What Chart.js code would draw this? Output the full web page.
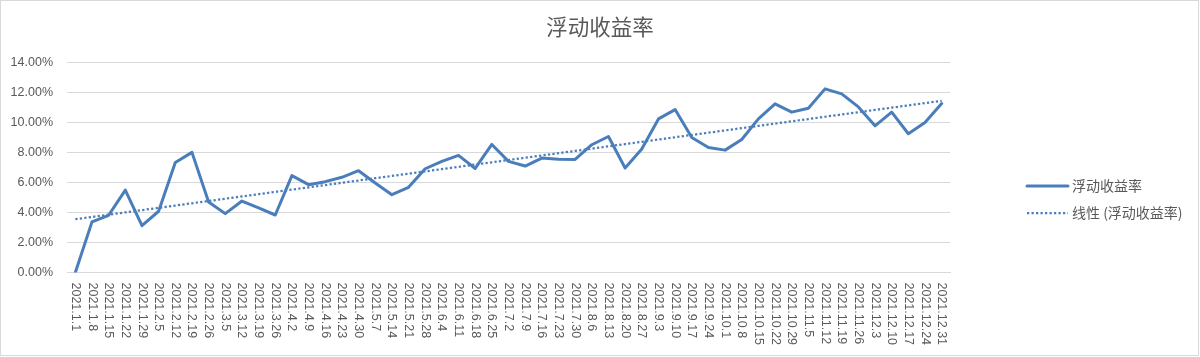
<!DOCTYPE html>
<html>
<head>
<meta charset="utf-8">
<script src="https://cdn.jsdelivr.net/npm/chart.js@4"></script>
<style>
  html, body { margin: 0; padding: 0; background: #ffffff; }
  canvas { display: block; }
</style>
</head>
<body>
<canvas id="c" width="1200" height="357"></canvas>
<script>
const categories = [
  '2021.1.1','2021.1.8','2021.1.15','2021.1.22','2021.1.29','2021.2.5','2021.2.12','2021.2.19','2021.2.26',
  '2021.3.5','2021.3.12','2021.3.19','2021.3.26','2021.4.2','2021.4.9','2021.4.16','2021.4.23','2021.4.30',
  '2021.5.7','2021.5.14','2021.5.21','2021.5.28','2021.6.4','2021.6.11','2021.6.18','2021.6.25','2021.7.2',
  '2021.7.9','2021.7.16','2021.7.23','2021.7.30','2021.8.6','2021.8.13','2021.8.20','2021.8.27','2021.9.3',
  '2021.9.10','2021.9.17','2021.9.24','2021.10.1','2021.10.8','2021.10.15','2021.10.22','2021.10.29',
  '2021.11.5','2021.11.12','2021.11.19','2021.11.26','2021.12.3','2021.12.10','2021.12.17','2021.12.24','2021.12.31'
];
// values in percent
const yieldValues = [
  0.00, 3.37, 3.81, 5.49, 3.12, 4.08, 7.33, 8.00, 4.70, 3.92,
  4.76, 4.30, 3.83, 6.45, 5.85, 6.05, 6.34, 6.78, 5.96, 5.18,
  5.67, 6.91, 7.40, 7.80, 6.93, 8.53, 7.40, 7.09, 7.62, 7.55,
  7.53, 8.51, 9.06, 6.96, 8.22, 10.23, 10.85, 8.99, 8.33, 8.15,
  8.86, 10.23, 11.23, 10.68, 10.94, 12.23, 11.90, 11.03, 9.77, 10.68,
  9.24, 9.99, 11.25
];
const seriesName = '浮动收益率';
const trendName = '线性 (浮动收益率)';
const chartTitle = '浮动收益率';
const yTicks = [0, 2, 4, 6, 8, 10, 12, 14];

// linear least-squares trend computed from the series
function linearTrend(vals) {
  const n = vals.length;
  let sx = 0, sy = 0, sxx = 0, sxy = 0;
  vals.forEach((v, i) => { sx += i; sy += v; sxx += i * i; sxy += i * v; });
  const b = (n * sxy - sx * sy) / (n * sxx - sx * sx);
  const a = (sy - b * sx) / n;
  return vals.map((_, i) => a + b * i);
}
const trendValues = linearTrend(yieldValues);

const TEXT = '#595959';
const GRID = '#d9d9d9';
const BLUE = '#4A7EBB';
const LATIN = '"Liberation Sans", Arial, sans-serif';
const CJK = '"Noto Sans CJK SC", sans-serif';

const extras = {
  id: 'extras',
  afterDraw(chart) {
    const ctx = chart.ctx;
    const xs = chart.scales.x;
    ctx.save();
    // rotated category labels (reading top to bottom)
    ctx.font = '12.5px ' + LATIN;
    ctx.fillStyle = TEXT;
    ctx.textAlign = 'left';
    ctx.textBaseline = 'middle';
    categories.forEach((lab, i) => {
      const x = xs.getPixelForValue(i);
      ctx.save();
      ctx.translate(x, chart.chartArea.bottom + 10);
      ctx.rotate(Math.PI / 2);
      ctx.fillText(lab, 0, 0);
      ctx.restore();
    });
    // legend
    const items = [chart.data.datasets[1], chart.data.datasets[0]];
    const ys = [186, 213];
    items.forEach((ds, k) => {
      ctx.save();
      ctx.strokeStyle = ds.borderColor;
      ctx.lineWidth = ds.borderWidth;
      ctx.setLineDash(ds.borderDash || []);
      ctx.lineCap = ds.borderDash ? 'butt' : 'round';
      ctx.beginPath();
      ctx.moveTo(1027, ys[k]);
      ctx.lineTo(1068, ys[k]);
      ctx.stroke();
      ctx.restore();
      ctx.font = '14px ' + CJK;
      ctx.fillStyle = TEXT;
      ctx.textBaseline = 'middle';
      ctx.fillText(ds.label, 1072, ys[k]);
    });
    // chart border
    ctx.strokeStyle = GRID;
    ctx.lineWidth = 1;
    ctx.setLineDash([]);
    ctx.strokeRect(0.5, 0.5, 1198, 355);
    ctx.restore();
  }
};

new Chart(document.getElementById('c'), {
  type: 'line',
  data: {
    labels: categories,
    datasets: [
      {
        label: trendName,
        data: trendValues,
        borderColor: BLUE,
        borderWidth: 2.25,
        borderDash: [2.25, 2.25],
        pointRadius: 0,
        tension: 0,
        fill: false,
        order: 0
      },
      {
        label: seriesName,
        data: yieldValues,
        borderColor: BLUE,
        borderWidth: 3,
        borderJoinStyle: 'round',
        borderCapStyle: 'round',
        pointRadius: 0,
        tension: 0,
        fill: false,
        order: 1
      }
    ]
  },
  options: {
    responsive: false,
    animation: false,
    devicePixelRatio: 1,
    layout: { padding: 0 },
    plugins: {
      legend: { display: false },
      tooltip: { enabled: false },
      title: {
        display: true,
        text: chartTitle,
        color: TEXT,
        font: { family: CJK, size: 21.5, weight: 'normal' },
        padding: { top: 14, bottom: 22.5 }
      }
    },
    scales: {
      x: {
        type: 'category',
        offset: true,
        grid: { display: false, drawTicks: false },
        border: { display: true, color: GRID },
        ticks: { display: false },
        afterFit(s) { s.height = 84.5; }
      },
      y: {
        min: 0,
        max: 14,
        afterBuildTicks(s) { s.ticks = yTicks.map(v => ({ value: v })); },
        grid: { color: GRID, lineWidth: 1, drawTicks: false },
        border: { display: false },
        ticks: {
          color: TEXT,
          padding: 14,
          font: { family: LATIN, size: 12.5 },
          callback: v => v.toFixed(2) + '%'
        },
        afterFit(s) { s.width = 67; }
      },
      yR: {
        type: 'linear',
        position: 'right',
        display: true,
        grid: { display: false, drawTicks: false },
        border: { display: false },
        ticks: { display: false },
        afterFit(s) { s.width = 250; }
      }
    }
  },
  plugins: [extras]
});
</script>
</body>
</html>
